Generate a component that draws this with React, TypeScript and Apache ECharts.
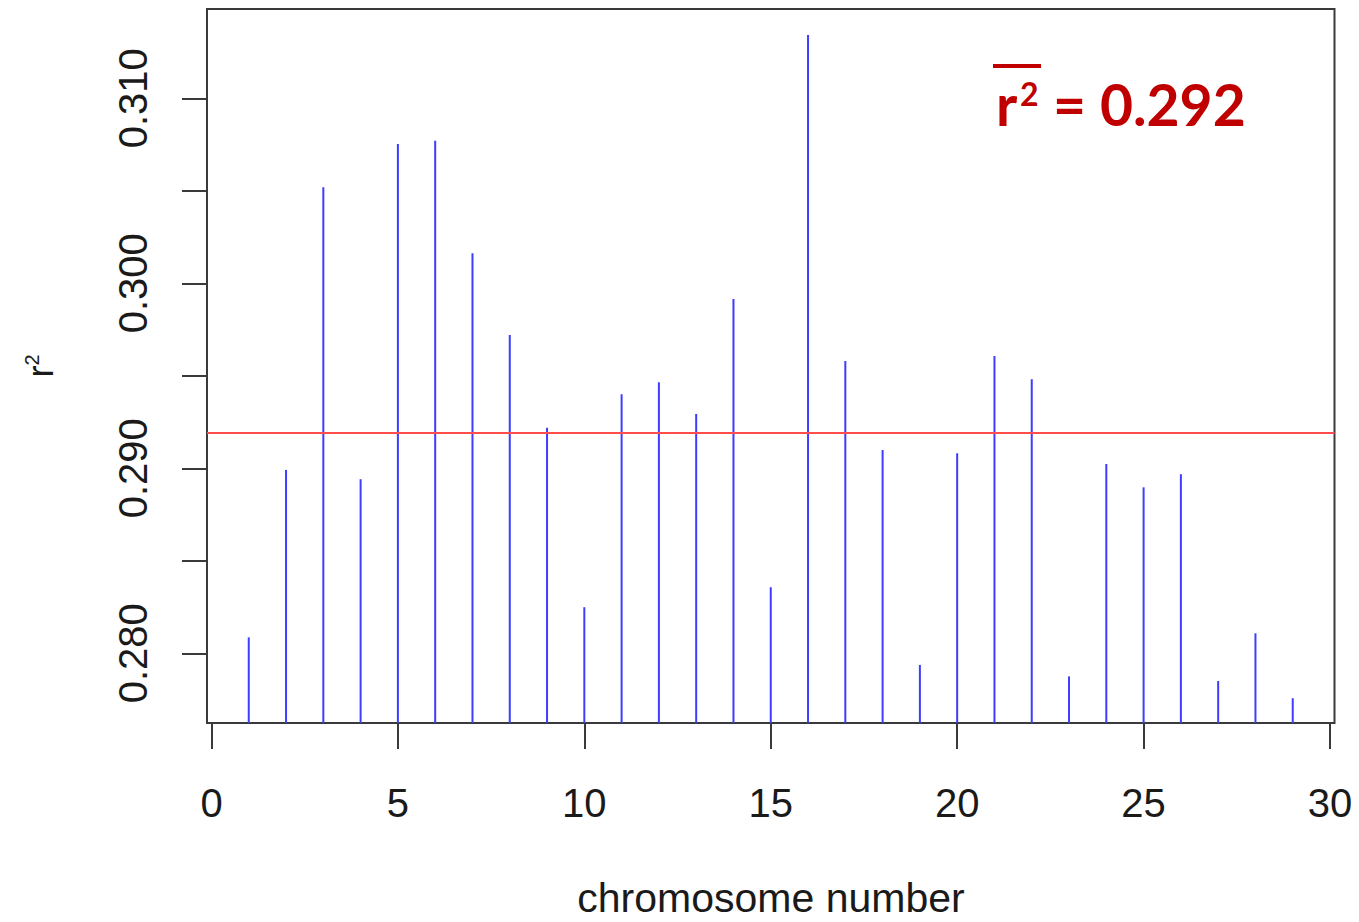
import React, { useEffect, useRef } from "react";
import * as echarts from "echarts";

const chromosomes = [1, 2, 3, 4, 5, 6, 7, 8, 9, 10, 11, 12, 13, 14, 15, 16, 17, 18, 19, 20, 21, 22, 23, 24, 25, 26, 27, 28, 29];
const r2Values = [
  0.28086, 0.28991, 0.30519, 0.28941, 0.30753, 0.30771, 0.30162, 0.29721, 0.29219, 0.28249,
  0.294, 0.29465, 0.29294, 0.29915, 0.28357, 0.31342, 0.2958, 0.29099, 0.27937, 0.29081,
  0.29607, 0.29481, 0.27875, 0.29023, 0.28897, 0.28968, 0.2785, 0.28108, 0.27757,
];
const meanR2 = 0.2919;
const meanLabel = "0.292";
const xTickMin = 0;
const xTickMax = 30;
const xTickStep = 5;
const yTickMin = 0.28;
const yTickMax = 0.31;
const yTickStep = 0.005;
const xPlotMin = -0.12;
const xPlotMax = 30.12;
const yPlotMin = 0.27623;
const yPlotMax = 0.31483;

const FONT = "'Liberation Sans', Arial, Helvetica, sans-serif";
const ANNOT_FONT = "Lato, 'Open Sans', sans-serif";

export default function App() {
  const ref = useRef<HTMLDivElement>(null);
  useEffect(() => {
    if (!ref.current) return;
    const chart = echarts.init(ref.current, null, { renderer: "svg" });
    const data = chromosomes.map((c, i) => [c, r2Values[i]]);
    const option: any = {
      animation: false,
      backgroundColor: "#ffffff",
      grid: [
        { left: 207, top: 9, width: 1127.5, height: 714, show: true, borderColor: "#3a3a3a", borderWidth: 2, backgroundColor: "transparent" },
        { left: 211.5, top: 9, width: 1118.5, height: 714 },
        { left: 207, top: 98.3, width: 1127.5, height: 555 },
      ],
      xAxis: [
        { gridIndex: 0, type: "value", min: xPlotMin, max: xPlotMax, show: false },
        {
          gridIndex: 1, type: "value", min: xTickMin, max: xTickMax, interval: xTickStep, position: "bottom",
          axisLine: { show: true, lineStyle: { color: "#3a3a3a", width: 2 } },
          axisTick: { show: true, length: 26, lineStyle: { color: "#3a3a3a", width: 2 } },
          axisLabel: { show: true, margin: 60, fontSize: 40, color: "#1a1a1a", fontFamily: FONT },
          splitLine: { show: false },
        },
        { gridIndex: 2, type: "value", min: 0, max: 1, show: false },
      ],
      yAxis: [
        { gridIndex: 0, type: "value", min: yPlotMin, max: yPlotMax, show: false },
        { gridIndex: 1, type: "value", min: 0, max: 1, show: false },
        {
          gridIndex: 2, type: "value", min: yTickMin, max: yTickMax, interval: yTickStep, position: "left",
          axisLine: { show: false },
          axisTick: { show: true, length: 25, lineStyle: { color: "#3a3a3a", width: 2 } },
          axisLabel: {
            show: true, rotate: 90, margin: 54, fontSize: 40, color: "#1a1a1a", fontFamily: FONT,
            formatter: (v: number) => (Math.round(v * 1000) % 10 === 0 ? v.toFixed(3) : ""),
          },
          splitLine: { show: false },
        },
      ],
      series: [
        {
          type: "custom",
          xAxisIndex: 0,
          yAxisIndex: 0,
          data,
          clip: true,
          renderItem: (params: any, api: any) => {
            const x = api.value(0);
            const y = api.value(1);
            const top = api.coord([x, y]);
            const base = api.coord([x, yPlotMin]);
            return {
              type: "line",
              shape: { x1: top[0], y1: base[1], x2: top[0], y2: top[1] },
              style: { stroke: "#3d3dff", lineWidth: 2 },
            };
          },
          markLine: {
            silent: true,
            precision: 6,
            symbol: ["none", "none"],
            label: { show: false },
            lineStyle: { color: "#ff4d4d", width: 2, type: "solid" },
            data: [{ yAxis: meanR2 }],
          },
          z: 2,
        },
      ],
      graphic: [
        {
          type: "text", x: 771, y: 898, style: {
            text: "chromosome number", fontSize: 41, fontFamily: FONT, fill: "#1a1a1a", align: "center", verticalAlign: "middle",
          },
        },
        {
          type: "text", x: 40, y: 366, rotation: Math.PI / 2, style: {
            text: "{r|r}{s|2}", fontFamily: FONT, fill: "#1a1a1a", align: "center", verticalAlign: "middle",
            rich: {
              r: { fontSize: 36, fontFamily: FONT, fill: "#1a1a1a", verticalAlign: "bottom" },
              s: { fontSize: 20, fontFamily: FONT, fill: "#1a1a1a", verticalAlign: "top" },
            },
          },
        },
        {
          type: "line", shape: { x1: 993, y1: 66, x2: 1041, y2: 66 }, style: { stroke: "#c00000", lineWidth: 4 },
        },
        {
          type: "text", x: 996, y: 104, style: {
            text: "r", fontSize: 57, fontWeight: "bold", fontFamily: ANNOT_FONT, fill: "#c00000", align: "left", verticalAlign: "middle",
          },
        },
        {
          type: "text", x: 1020, y: 93, style: {
            text: "2", fontSize: 32, fontWeight: "bold", fontFamily: ANNOT_FONT, fill: "#c00000", align: "left", verticalAlign: "middle",
          },
        },
        {
          type: "text", x: 1053, y: 104, style: {
            text: "= " + meanLabel, fontSize: 57, fontWeight: "bold", fontFamily: ANNOT_FONT, fill: "#c00000", align: "left", verticalAlign: "middle",
          },
        },
      ],
    };
    chart.setOption(option);
    return () => chart.dispose();
  }, []);
  return (
    <div
      ref={ref}
      style={{ position: "absolute", left: 0, top: 0, width: 1359, height: 922, background: "#ffffff" }}
    />
  );
}
